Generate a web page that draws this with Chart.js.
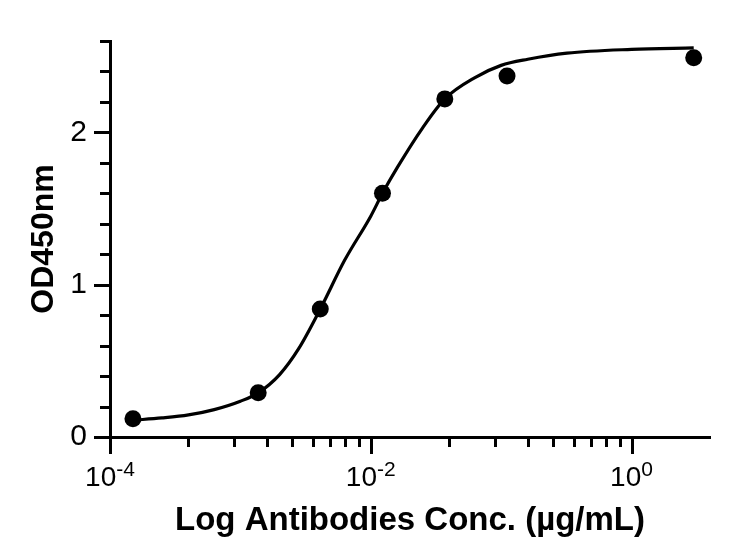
<!DOCTYPE html>
<html>
<head>
<meta charset="utf-8">
<script src="https://cdn.jsdelivr.net/npm/chart.js@4.4.1/dist/chart.umd.min.js"></script>
<style>
  html, body { margin: 0; padding: 0; background: #fff; }
</style>
</head>
<body>
<canvas id="odChart" width="744" height="556"></canvas>
<script>
// measured points: antibody concentration (µg/mL) vs OD450
const concentrations = [0.00015, 0.00137, 0.0041, 0.0123, 0.037, 0.111, 3.0];
const odValues = [0.12, 0.29, 0.84, 1.60, 2.22, 2.37, 2.49];

// fitted curve
const fitConc = [0.00015, 0.00025, 0.0004, 0.00063, 0.001, 0.00137, 0.002, 0.0028, 0.0041,
                 0.0063, 0.01, 0.0123, 0.016, 0.025, 0.037, 0.063, 0.1, 0.16, 0.32, 1.0, 3.0];
const fitOD = [0.11, 0.125, 0.145, 0.18, 0.235, 0.29, 0.41, 0.58, 0.84,
               1.16, 1.45, 1.60, 1.77, 2.03, 2.22, 2.36, 2.44, 2.48, 2.52, 2.545, 2.555];

// axis ticks
const xMajorTicks = [1e-4, 1e-2, 1];
const xTickExponents = ['-4', '-2', '0'];
const xMinorTicks = [4e-4, 9e-4, 1.6e-3, 2.5e-3, 3.6e-3, 4.9e-3, 6.4e-3, 8.1e-3,
                     4e-2, 9e-2, 0.16, 0.25, 0.36, 0.49, 0.64, 0.81];
const yMajorTicks = [0, 1, 2];
const yMinorTicks = [0.2, 0.4, 0.6, 0.8, 1.2, 1.4, 1.6, 1.8, 2.2, 2.4, 2.6];

const FONT = '"Liberation Sans", Arial, Helvetica, sans-serif';
Chart.defaults.font.family = FONT;
Chart.defaults.color = '#000';

// tick marks of two lengths and the 10^n labels
const axisDecor = {
    id: 'axisDecor',
    afterDraw(chart) {
        const { ctx, chartArea, scales: { x, y } } = chart;
        ctx.save();
        ctx.strokeStyle = '#000';
        ctx.lineWidth = 3;
        const base = chartArea.bottom;
        const left = chartArea.left;
        const xTick = (v, len) => {
            const px = Math.round(x.getPixelForValue(v)) + 0.5;
            ctx.beginPath();
            ctx.moveTo(px, base);
            ctx.lineTo(px, base + len);
            ctx.stroke();
        };
        const yTick = (v, len) => {
            const py = Math.round(y.getPixelForValue(v)) + 0.5;
            ctx.beginPath();
            ctx.moveTo(left, py);
            ctx.lineTo(left - len, py);
            ctx.stroke();
        };
        xMajorTicks.forEach(v => xTick(v, 17));
        xMinorTicks.forEach(v => xTick(v, 10));
        yMajorTicks.forEach(v => yTick(v, 16));
        yMinorTicks.forEach(v => yTick(v, 10));

        ctx.fillStyle = '#000';
        ctx.textBaseline = 'alphabetic';
        ctx.textAlign = 'left';
        xMajorTicks.forEach((v, i) => {
            const px = x.getPixelForValue(v);
            const exp = xTickExponents[i];
            ctx.font = '28px ' + FONT;
            const w1 = ctx.measureText('10').width;
            ctx.font = '21px ' + FONT;
            const w2 = ctx.measureText(exp).width;
            const start = px - (w1 + w2) / 2;
            ctx.font = '28px ' + FONT;
            ctx.fillText('10', start, base + 49);
            ctx.font = '21px ' + FONT;
            ctx.fillText(exp, start + w1, base + 39);
        });
        ctx.restore();
    }
};

const ctx = document.getElementById('odChart').getContext('2d');
const odChart = new Chart(ctx, {
    type: 'scatter',
    data: {
        datasets: [{
            label: 'OD450',
            data: concentrations.map((c, i) => ({ x: c, y: odValues[i] })),
            pointRadius: 8.5,
            pointBackgroundColor: '#000',
            pointBorderWidth: 0,
            showLine: false
        }, {
            label: 'Fit',
            data: fitConc.map((c, i) => ({ x: c, y: fitOD[i] })),
            showLine: true,
            borderColor: '#000',
            borderWidth: 3.2,
            pointRadius: 0,
            cubicInterpolationMode: 'monotone'
        }]
    },
    options: {
        responsive: false,
        animation: false,
        layout: { padding: { top: 37, right: 34, left: 0, bottom: 0 } },
        plugins: {
            legend: { display: false },
            tooltip: { enabled: false }
        },
        scales: {
            x: {
                type: 'logarithmic',
                min: 1e-4,
                max: 4,
                grid: { display: false, drawTicks: false },
                border: { display: true, color: '#000', width: 3 },
                ticks: { display: false },
                title: {
                    display: true,
                    text: 'Log Antibodies Conc. (µg/mL)',
                    font: { size: 33, weight: 'bold' },
                    padding: { top: 0, bottom: 15 }
                },
                afterFit: scale => { scale.height = 119; }
            },
            y: {
                min: 0,
                max: 2.6,
                grid: { display: false, drawTicks: false },
                border: { display: true, color: '#000', width: 3 },
                afterBuildTicks: scale => {
                    scale.ticks = yMajorTicks.map(v => ({ value: v }));
                },
                ticks: {
                    font: { size: 30 },
                    padding: 23,
                    callback: v => String(v)
                },
                title: {
                    display: true,
                    text: 'OD450nm',
                    font: { size: 32, weight: 'bold' },
                    padding: { top: 25, bottom: 0 }
                },
                afterFit: scale => { scale.width = 110; }
            }
        }
    },
    plugins: [axisDecor]
});
</script>
</body>
</html>
